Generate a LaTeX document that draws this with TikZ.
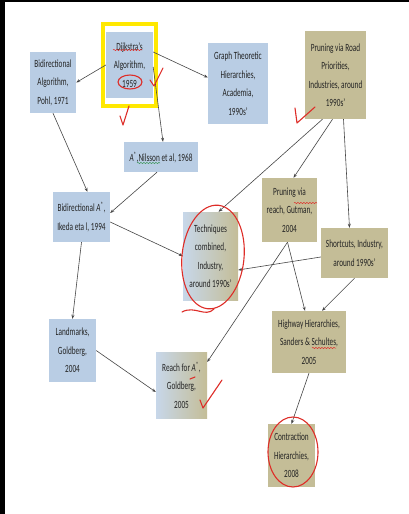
\documentclass[tikz,border=0pt]{standalone}
\usepackage{fontspec}
\setmainfont{Carlito}[FakeStretch=0.66]
\usepackage{tikz}
\usetikzlibrary{arrows.meta, positioning, calc, fit, decorations.pathmorphing}
\definecolor{boxblue}{RGB}{185,205,228}
\definecolor{boxtan}{RGB}{196,189,151}
\definecolor{inkred}{RGB}{222,45,40}
\definecolor{inkgreen}{RGB}{60,150,90}
\definecolor{frameyellow}{RGB}{255,232,0}
\definecolor{linkgray}{RGB}{70,70,70}
\definecolor{textgray}{RGB}{35,35,35}
\tikzset{
    % Boxes
    algbox/.style={inner sep=0pt, align=center, text=textgray,
        font=\fontsize{11}{18.5}\selectfont},
    bluebox/.style={algbox, fill=boxblue},
    tanbox/.style={algbox, fill=boxtan},
    mixbox/.style={algbox, left color=boxblue!80!white, right color=boxtan},
    % Connectors and pen marks
    link/.style={-{Stealth[length=4pt, width=3pt]}, draw=linkgray, line width=0.6pt},
    redmark/.style={draw=inkred, line width=1.1pt, line cap=round, line join=round},
    squiggle/.style={draw=inkred, line width=0.5pt,
        decorate, decoration={snake, amplitude=0.6pt, segment length=3pt}}
}
\newcommand{\astar}{\textit{A}\textsuperscript{*}}
\begin{document}
\begin{tikzpicture}[x=1pt, y=-1pt]
        \useasboundingbox (0,0) rectangle (409,514);
        \fill[white] (0,0) rectangle (409,514);
        \fill[black] (0,0) rectangle (5,514);
        \fill[black] (0,0) rectangle (409,2);

        % Top row
        \node[bluebox, minimum width=47pt, minimum height=66pt] (dijkstra) at (129.5,65) {Dijkstra's\\Algorithm,\\1959};
        \node[bluebox, minimum width=46pt, minimum height=61pt] (pohl) at (53,82.5) {Bidirectional\\Algorithm,\\Pohl, 1971};
        \node[bluebox, minimum width=60pt, minimum height=81pt] (graph) at (238,83.5) {Graph Theoretic\\Hierarchies,\\Academia,\\1990s'};
        \node[tanbox, minimum width=61pt, minimum height=88pt] (road) at (335.5,75) {Pruning via Road\\Priorities,\\Industries, around\\1990s'};

        % Highlight frame round Dijkstra
        \node[draw=frameyellow, line width=4pt, fit=(dijkstra), inner xsep=3pt, inner ysep=8pt] (dframe) {};

        % Middle part
        \node[bluebox, minimum width=74pt, minimum height=30pt] (nilsson) at (161,157) {\astar,Nilsson et al, 1968};
        \node[bluebox, minimum width=57pt, minimum height=50pt] (bidiastar) at (81.5,217) {Bidirectional \astar,\\Ikeda eta l, 1994};
        \node[mixbox, minimum width=55pt, minimum height=88pt] (techniques) at (210.5,256) {Techniques\\combined,\\Industry,\\around 1990s'};
        \node[tanbox, minimum width=55pt, minimum height=64pt] (reachprune) at (289.5,210) {Pruning via\\reach, Gutman,\\2004};
        \node[tanbox, minimum width=67pt, minimum height=50pt] (shortcuts) at (354.5,253) {Shortcuts, Industry,\\around 1990s'};

        % Lower part
        \node[bluebox, minimum width=47pt, minimum height=63pt] (landmarks) at (72.5,350.5) {Landmarks,\\Goldberg,\\2004};
        \node[mixbox, minimum width=51pt, minimum height=66pt] (reachastar) at (181.5,385) {Reach for \astar,\\Goldberg,\\2005};
        \node[tanbox, minimum width=74pt, minimum height=62pt] (highway) at (309,342) {Highway Hierarchies,\\Sanders \& Schultes,\\2005};
        \node[tanbox, minimum width=47pt, minimum height=63pt] (contraction) at (291.5,455.5) {Contraction\\Hierarchies,\\2008};

        % Connections from Dijkstra
        \draw[link] (dijkstra.west) -- (pohl.east);
        \draw[link] ([yshift=13pt]dijkstra.east) -- ([yshift=6pt]graph.west);
        \draw[link] ([yshift=-2pt]dijkstra.east) -- ([xshift=2pt]nilsson.north);

        % Bidirectional branch
        \draw[link] (pohl.south) -- ([xshift=6pt]bidiastar.north);
        \draw[link] ([xshift=-4pt]nilsson.south) -- ([yshift=4pt]bidiastar.east);
        \draw[link] ([yshift=-5pt]bidiastar.east) -- (techniques.west);
        \draw[link] (bidiastar.south) -- (landmarks.north);
        \draw[link] (landmarks.east) -- ([yshift=-7pt]reachastar.west);

        % Connections from road priorities
        \draw[link] ([xshift=-13pt]road.south) -- ([xshift=8pt]techniques.north);
        \draw[link] ([xshift=-3pt]road.south) -- ([xshift=4pt]reachprune.north);
        \draw[link] ([xshift=8pt]road.south) -- ([xshift=-5pt]shortcuts.north);

        % Connections towards the hierarchies
        \draw[link] ([yshift=-4pt]shortcuts.west) -- ([yshift=-14pt]techniques.east);
        \draw[link] ([xshift=-2pt]reachprune.south) -- ([xshift=-4pt]highway.north);
        \draw[link] ([xshift=-2pt]reachprune.south) -- ([yshift=23pt]reachastar.east);
        \draw[link] (shortcuts.south) -- ([xshift=13pt]highway.north);
        \draw[link] (highway.south) -- (contraction.north);

        % Spelling marks under names
        \draw[squiggle] (113,50) -- (142,50);
        \draw[squiggle] (294,203) -- (317,203);
        \draw[squiggle] (312,348) -- (336,348);
        \draw[squiggle, draw=inkgreen] (137,163) -- (160,163);

        % Pen marks
        \draw[redmark] (130,82) ellipse [x radius=12pt, y radius=7pt];
        \draw[redmark] (150,80) -- (154,86) -- (163,68);
        \draw[redmark] (120,116) -- (123,125) -- (129,106);
        \draw[redmark] (295,108) -- (297,123) -- (315,107);
        \draw[redmark, rotate around={-6:(213,257)}] (213,257) ellipse [x radius=31pt, y radius=52pt];
        \draw[redmark] (182,312) .. controls (195,305) and (205,318) .. (214,309);
        \draw[redmark] (293,452) ellipse [x radius=25pt, y radius=35pt];
        \draw[redmark] (200,400) -- (203,408) -- (222,380);
        \draw[redmark] (190,379) -- (195,377);
\end{tikzpicture}
\end{document}
